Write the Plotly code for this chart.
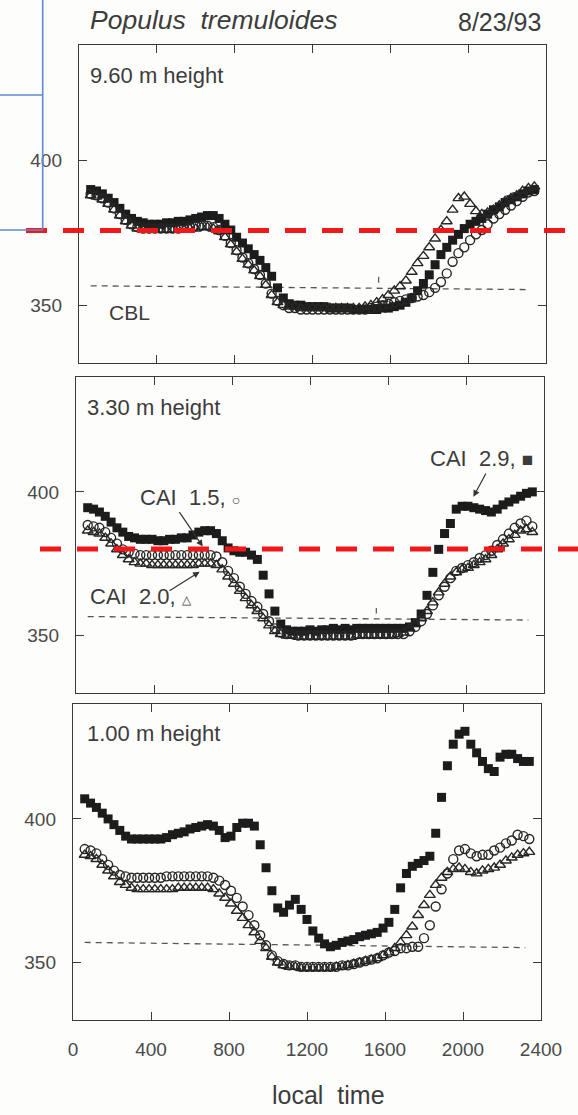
import plotly.graph_objects as go

# ---------------- data ----------------
TIME = [60, 90, 120, 150, 180, 210, 240, 270, 300, 330,
        360, 390, 420, 450, 480, 510, 540, 570, 600, 630,
        660, 690, 720, 750, 780, 810, 840, 870, 900, 930,
        960, 990, 1020, 1050, 1080, 1110, 1140, 1170, 1200, 1230,
        1260, 1290, 1320, 1350, 1380, 1410, 1440, 1470, 1500, 1530,
        1560, 1590, 1620, 1650, 1680, 1710, 1740, 1770, 1800, 1830,
        1860, 1890, 1920, 1950, 1980, 2010, 2040, 2070, 2100, 2130,
        2160, 2190, 2220, 2250, 2280, 2310, 2340]

# 9.60 m height
SQ_960 = [390, 389.5, 388.5, 387, 385.5, 383.5, 381.5, 380, 379, 378.5,
          378, 378, 378, 378.5, 378.5, 379, 379, 379.5, 380, 380.5,
          381, 381, 380, 378, 376, 373.5, 371.5, 369.5, 367.5, 365.5,
          363, 360, 356, 352.5, 350.5, 350, 350, 349.5, 349.5, 349.5,
          349.5, 349, 349, 349, 349, 348.5, 348.5, 348.5, 348.5, 348.5,
          349, 349, 349.5, 350, 351, 352.5, 355, 357.5, 360.5, 364,
          367.5, 370, 372.5, 374.5, 376.5, 378, 379, 380, 381.5, 383,
          384, 385.5, 386.5, 387.5, 388.5, 389.5, 390]
TR_960 = [388, 387.5, 386.5, 385, 383, 381, 379, 377.5, 376.5, 376,
          376, 376, 376, 376, 376, 376, 376, 376.5, 376.5, 377,
          377, 376.5, 375.5, 373.5, 371, 368.5, 366, 364, 362, 360,
          357, 353.5, 351, 350, 349.5, 349.5, 349, 349, 349, 349,
          349, 349, 349, 349, 349, 349, 349, 349.5, 350, 351,
          352, 353.5, 355, 356.5, 358.5, 361.5, 364.5, 367, 370, 373,
          376, 379, 383, 387, 387.5, 385, 382.5, 381.5, 382, 383,
          384.5, 386, 387, 388, 389.5, 390.5, 391]
CI_960 = [388.5, 388, 387, 385.5, 383.5, 381.5, 379.5, 378, 377, 376.5,
          376.5, 376.5, 376.5, 376.5, 376.5, 376.5, 377, 377, 377.5, 377.5,
          377.5, 377, 376, 374, 371.5, 369, 366.5, 364.5, 362.5, 360.5,
          357.5, 354, 351.5, 350, 349, 349, 348.5, 348.5, 348.5, 348.5,
          348.5, 348.5, 348.5, 348.5, 348.5, 348.5, 348.5, 348.5, 349, 349.5,
          350, 350.5, 351, 351.5, 352, 352.5, 353, 353.5, 354.5, 356,
          358, 361, 365, 368, 370, 372.5, 374.5, 376, 378, 380,
          381.5, 383, 384.5, 386, 387.5, 389, 389.5]

# 3.30 m height
SQ_330 = [394.5, 394, 393, 391.5, 389.5, 387.5, 386, 384.5, 384, 383.5,
          383.5, 383.5, 383, 383, 383.5, 383.5, 384, 384, 385, 386,
          386.5, 386.5, 385.5, 383, 380.5, 379.5, 379, 379, 378, 376.5,
          371, 364.5, 358.5, 354, 352, 351.5, 351.5, 351.5, 352, 351.5,
          352, 352, 352.5, 352, 352.5, 352, 352.5, 352.5, 352.5, 352.5,
          352.5, 352.5, 352.5, 352.5, 352.5, 353, 354.5, 357.5, 364, 372,
          380, 385.5, 389, 394, 395, 395, 394.5, 394, 393.5, 393,
          394, 395.5, 396.5, 397.5, 398.5, 399.5, 400]
TR_330 = [386.5, 386, 385.5, 384, 382, 380, 378, 376.5, 375.5, 375,
          375, 374.5, 374.5, 374.5, 374.5, 374.5, 374.5, 374.5, 374.5, 375,
          375, 375, 374.5, 373, 370.5, 368, 365.5, 363, 360.5, 358.5,
          356, 353.5, 351.5, 350.5, 350, 350, 349.5, 349.5, 349.5, 349.5,
          349.5, 349.5, 349.5, 349.5, 349.5, 349.5, 350, 350, 350, 350,
          350, 350, 350, 350.5, 351, 352.5, 354, 356, 358.5, 361.5,
          365, 368, 370.5, 372, 373, 373.5, 374.5, 375.5, 376.5, 378,
          380, 382, 383.5, 385, 386.5, 387, 386]
CI_330 = [388.5, 388, 387.5, 386, 384, 382, 380, 379, 378.5, 378,
          378, 378, 378, 378, 378, 378, 378, 378, 378, 378,
          378, 378, 377.5, 375.5, 372.5, 370, 367, 364.5, 362, 360,
          357.5, 355, 352.5, 351, 350.5, 350.5, 350, 350, 350, 350,
          350, 350, 350, 350, 350, 350, 350.5, 350.5, 350.5, 350.5,
          350.5, 350.5, 350.5, 350.5, 350.5, 351.5, 353, 355, 357.5, 360.5,
          364, 367, 370, 372.5, 373.5, 374.5, 375.5, 377, 378, 379.5,
          381.5, 383.5, 385.5, 387.5, 389, 390, 388]

# 1.00 m height
SQ_100 = [407, 405.5, 404, 402, 400, 398, 396, 394, 393, 393,
          393, 393, 393, 393, 393.5, 394.5, 395, 395.5, 396.5, 397,
          397.5, 398, 397.5, 396, 393.5, 394, 397, 398.5, 398.5, 397.5,
          391, 383, 375, 369, 367.5, 370, 372, 368.5, 365, 361,
          358.5, 356.5, 355.5, 356, 357, 357.5, 358, 359, 359.5, 360,
          360.5, 362, 364, 368.5, 376, 381, 383.5, 384.5, 385.5, 387,
          395, 407.5, 418.5, 426, 429.5, 430.5, 426, 423, 420, 417.5,
          416.5, 421.5, 422.5, 422.5, 421, 420, 420]
TR_100 = [387.5, 387, 386, 384, 382, 380, 378, 377, 376, 375.5,
          375.5, 375.5, 375.5, 375.5, 375.5, 375.5, 376, 376, 376, 376,
          376, 376, 375.5, 374, 372.5, 370.5, 368, 365.5, 363, 360.5,
          357.5, 355, 352, 350, 349, 348.5, 348.5, 348, 348, 348,
          348, 348, 348, 348.5, 348.5, 349, 349.5, 350, 350.5, 351,
          351.5, 352.5, 353.5, 355, 357, 359.5, 362.5, 366.5, 370, 373.5,
          377, 379.5, 381.5, 382.5, 383, 382.5, 381.5, 381, 382, 382.5,
          383, 384, 385.5, 386.5, 387.5, 388, 388.5]
CI_100 = [389.5, 389, 388, 386, 384, 382, 380.5, 380, 379.5, 379.5,
          379.5, 379.5, 379.5, 379.5, 380, 380, 380, 380, 380, 380,
          380, 380, 379.5, 378.5, 377, 375, 372.5, 369.5, 366.5, 363,
          359.5, 356, 352.5, 350.5, 349.5, 349, 349, 348.5, 348.5, 348.5,
          348.5, 348.5, 348.5, 348.5, 349, 349, 349.5, 350, 350.5, 351,
          351.5, 352.5, 353.5, 354, 355, 355, 355.5, 355.5, 358.5, 363,
          369.5, 375.5, 381, 386, 389, 389.5, 388, 387, 387.5, 387.5,
          389, 390, 391.5, 392.5, 394.5, 394, 393]

# CBL reference line (start / end)
CBL_X = [60, 2320]
CBL_Y_960 = [356.7, 355.4]
CBL_Y_330 = [356.6, 355.4]
CBL_Y_100 = [357.0, 355.2]

X_TICKS = [0, 400, 800, 1200, 1600, 2000, 2400]
X_TICKTEXT = ["0", "400", "800", "1200", "1600", "2000", "2400"]
Y_TICKS = [350, 400]
Y_TICKTEXT = ["350", "400"]
HEIGHT_LABELS = ["9.60 m height", "3.30 m height", "1.00 m height"]

SQUARES = [SQ_960, SQ_330, SQ_100]
TRIANGLES = [TR_960, TR_330, TR_100]
CIRCLES = [CI_960, CI_330, CI_100]
CBL_YS = [CBL_Y_960, CBL_Y_330, CBL_Y_100]

# ---------------- layout ----------------
W, H = 578, 1115
BOXES = [(79, 546, 45, 363), (76, 544, 377, 693), (73, 541, 704, 1020)]
INK = "#262626"
TXT = "#3c3c3c"
FONT = "Liberation Sans, Arial, sans-serif"


def px(x):
    return x / W


def py(y):
    return 1 - y / H


fig = go.Figure()

for k in range(3):
    xa = "x" if k == 0 else f"x{k + 1}"
    ya = "y" if k == 0 else f"y{k + 1}"
    fig.add_trace(go.Scatter(x=CBL_X, y=CBL_YS[k], mode="lines", xaxis=xa, yaxis=ya,
                             line=dict(color="#555555", width=1.3, dash="6px,5px"),
                             showlegend=False, hoverinfo="skip"))
    fig.add_trace(go.Scatter(x=TIME, y=SQUARES[k], mode="markers", xaxis=xa, yaxis=ya,
                             name="CAI 2.9",
                             marker=dict(symbol="square", size=9, color="#1c1c1c",
                                         line=dict(width=0)),
                             showlegend=False))
    fig.add_trace(go.Scatter(x=TIME, y=TRIANGLES[k], mode="markers", xaxis=xa, yaxis=ya,
                             name="CAI 2.0",
                             marker=dict(symbol="triangle-up-open", size=9.5, color=INK,
                                         line=dict(width=1.4)),
                             showlegend=False))
    fig.add_trace(go.Scatter(x=TIME, y=CIRCLES[k], mode="markers", xaxis=xa, yaxis=ya,
                             name="CAI 1.5",
                             marker=dict(symbol="circle-open", size=9, color=INK,
                                         line=dict(width=1.4)),
                             showlegend=False))

    l, r, t, b = BOXES[k]
    xkey = "xaxis" if k == 0 else f"xaxis{k + 1}"
    ykey = "yaxis" if k == 0 else f"yaxis{k + 1}"
    common = dict(ticks="inside", ticklen=8, tickwidth=1.3, tickcolor="#3a3a3a",
                  showline=True, linecolor="#3a3a3a", linewidth=1.4, mirror="ticks",
                  showgrid=False, zeroline=False, automargin=False,
                  tickfont=dict(family=FONT, size=19, color="#4a4a4a"))
    fig.update_layout({
        xkey: dict(domain=[px(l), px(r)], range=[0, 2400], anchor=ya,
                   tickmode="array", tickvals=X_TICKS, ticktext=X_TICKTEXT,
                   showticklabels=(k == 2), ticklabelstandoff=12, **common),
        ykey: dict(domain=[py(b), py(t)], range=[330, 440], anchor=xa,
                   tickmode="array", tickvals=Y_TICKS, ticktext=Y_TICKTEXT,
                   ticklabelstandoff=12, **common),
    })

annotations = []


def text(s, x, y, size, xanchor="left", italic=False):
    if italic:
        s = f"<i>{s}</i>"
    annotations.append(dict(text=s, x=px(x), y=py(y), xref="paper", yref="paper",
                            xanchor=xanchor, yanchor="middle", showarrow=False,
                            font=dict(family=FONT, size=size, color=TXT)))


text("Populus  tremuloides", 88, 20, 26.5, italic=True)
text("8/23/93", 543, 22, 25, xanchor="right")
text(HEIGHT_LABELS[0], 88, 76, 22)
text(HEIGHT_LABELS[1], 85, 407, 22)
text(HEIGHT_LABELS[2], 85, 733, 22)
text("CBL", 107, 313, 21)
text("local  time", 329, 1095, 25, xanchor="center")
text("CAI  1.5, <span style='font-size:14px'>○</span>", 138, 497, 22)
text("CAI  2.0, <span style='font-size:12px'>△</span>", 88, 597, 22)
text("CAI  2.9, <span style='font-size:19px'>■</span>", 428, 458, 22)

for (hx, hy, tx, ty) in [(650, 381, 525, 393.5), (634, 372.2, 472, 365.3), (2038, 398.3, 2106, 406.9)]:
    annotations.append(dict(x=hx, y=hy, ax=tx, ay=ty, xref="x2", yref="y2", axref="x2", ayref="y2",
                            text="", showarrow=True, arrowhead=2, arrowsize=1.1,
                            arrowwidth=1.2, arrowcolor="#333333"))

shapes = []
# tiny marks just above the CBL line (panels 1 and 2)
for (xr, yr, y0, y1) in [("x", "y", 357.8, 359.8), ("x2", "y2", 357.7, 359.6)]:
    shapes.append(dict(type="line", xref=xr, yref=yr, x0=1540, x1=1540, y0=y0, y1=y1,
                       line=dict(color="#555555", width=1.2)))
# red dashed overlay lines
for (x0, yy) in [(26, 230.5), (40, 549)]:
    shapes.append(dict(type="line", xref="paper", yref="paper", x0=px(x0), x1=px(578),
                       y0=py(yy), y1=py(yy),
                       line=dict(color="#f01818", width=5, dash="21px,16px")))
# blue overlay lines
for (x0, y0, x1, y1) in [(42.7, 0, 42.7, 230), (0, 95, 42.7, 95), (0, 230, 42.7, 230)]:
    shapes.append(dict(type="line", xref="paper", yref="paper", x0=px(x0), x1=px(x1),
                       y0=py(y0), y1=py(y1), line=dict(color="#5b8bd5", width=1.6)))

fig.update_layout(width=W, height=H, autosize=False,
                  margin=dict(l=0, r=0, t=0, b=0, pad=0),
                  paper_bgcolor="#fdfdfb", plot_bgcolor="#fdfdfb",
                  showlegend=False, annotations=annotations, shapes=shapes)

fig.write_html("out.html", config={"displayModeBar": False},
               post_script="document.body.style.margin='0';document.body.style.overflow='hidden';")
